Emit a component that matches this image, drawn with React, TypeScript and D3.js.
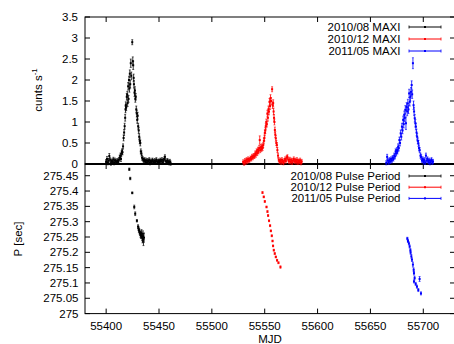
import React from 'react';
import * as d3 from 'd3';

// [MJD, value, error]
type Pt = [number, number, number];

const lc1008: Pt[] = [
  [55400.0,0.05,0.05],[55400.8,0.12,0.06],[55401.5,0.03,0.05],[55402.3,0.08,0.05],[55403.0,0.19,0.06],[55403.8,0.1,0.05],
  [55404.5,0.02,0.05],[55405.3,0.07,0.05],[55406.0,0.05,0.05],[55406.8,0.11,0.05],[55407.5,0.03,0.05],[55408.3,0.09,0.05],
  [55409.0,0.06,0.05],[55409.8,0.04,0.05],[55410.5,0.08,0.05],[55411.3,0.05,0.05],[55412.0,0.1,0.05],[55412.8,0.15,0.06],
  [55413.5,0.2,0.06],[55414.0,0.12,0.06],[55414.5,0.25,0.06],[55415.0,0.3,0.06],[55415.5,0.28,0.06],[55416.0,0.42,0.06],
  [55416.5,0.62,0.07],[55417.0,0.75,0.07],[55417.5,0.9,0.07],[55418.0,1.1,0.08],[55418.3,1.3,0.08],[55418.6,1.4,0.08],
  [55419.0,1.35,0.08],[55419.5,1.6,0.08],[55420.0,1.65,0.08],[55420.3,1.45,0.08],[55420.8,1.85,0.09],[55421.2,1.55,0.08],
  [55421.6,2.0,0.09],[55422.0,1.8,0.09],[55422.4,2.15,0.09],[55422.8,1.9,0.09],[55423.3,2.4,0.1],[55423.8,2.1,0.09],
  [55424.7,2.9,0.06],[55425.2,2.45,0.1],[55425.6,2.35,0.1],[55426.0,2.05,0.09],[55426.3,1.9,0.09],[55426.8,1.7,0.09],
  [55427.2,1.75,0.09],[55427.6,1.55,0.08],[55428.0,1.6,0.08],[55428.5,1.3,0.08],[55429.0,1.2,0.08],[55429.4,1.05,0.08],
  [55429.8,1.15,0.08],[55430.3,0.9,0.07],[55430.8,0.8,0.07],[55431.3,0.65,0.07],[55431.8,0.55,0.07],[55432.3,0.5,0.07],
  [55432.8,0.3,0.06],[55433.4,0.25,0.06],[55434.0,0.15,0.06],[55434.8,0.12,0.05],[55435.5,0.08,0.05],[55436.3,0.1,0.05],
  [55437.0,0.05,0.05],[55437.8,0.09,0.05],[55438.5,0.04,0.05],[55439.3,0.08,0.05],[55440.0,0.06,0.05],[55440.8,0.1,0.05],
  [55441.5,0.03,0.05],[55442.3,0.07,0.05],[55443.0,0.05,0.05],[55443.8,0.09,0.05],[55444.5,0.06,0.05],[55445.3,0.04,0.05],
  [55446.0,0.08,0.05],[55446.8,0.05,0.05],[55447.5,0.1,0.05],[55448.3,0.06,0.05],[55449.0,0.04,0.05],[55449.8,0.07,0.05],
  [55450.5,0.05,0.05],[55451.3,0.09,0.05],[55452.0,0.06,0.05],[55452.8,0.1,0.05],[55453.5,0.04,0.05],[55454.3,0.08,0.05],
  [55455.0,0.12,0.05],[55455.6,0.17,0.05],[55456.5,0.07,0.05],[55457.3,0.04,0.05],[55458.0,0.08,0.05],[55458.8,0.05,0.05],
  [55459.5,0.03,0.05],[55460.3,0.06,0.05],[55461.0,0.02,0.05],
];

const lc1012: Pt[] = [
  [55529.6,0.05,0.05],[55530.5,0.02,0.05],[55531.3,0.08,0.05],[55532.0,0.04,0.05],[55532.8,0.1,0.05],[55533.5,0.06,0.05],
  [55534.3,0.12,0.05],[55535.0,0.08,0.05],[55535.8,0.1,0.05],[55536.5,0.14,0.05],[55537.3,0.12,0.05],[55538.0,0.18,0.05],
  [55538.8,0.15,0.05],[55539.5,0.2,0.05],[55540.3,0.18,0.05],[55541.0,0.25,0.06],[55541.6,0.22,0.06],[55542.3,0.3,0.06],
  [55543.0,0.26,0.06],[55543.6,0.34,0.06],[55544.2,0.3,0.06],[55544.8,0.38,0.06],[55545.3,0.57,0.1],[55545.8,0.33,0.06],
  [55546.4,0.4,0.06],[55547.0,0.36,0.06],[55547.5,0.42,0.06],[55548.0,0.38,0.06],[55548.6,0.45,0.06],[55549.2,0.55,0.07],
  [55549.7,0.62,0.07],[55550.1,0.74,0.07],[55550.6,0.8,0.07],[55551.0,0.9,0.07],[55551.5,1.0,0.07],[55552.0,0.95,0.07],
  [55552.5,1.2,0.08],[55553.0,1.1,0.08],[55553.5,1.3,0.08],[55554.0,1.25,0.08],[55554.5,1.48,0.08],[55555.0,1.38,0.08],
  [55555.5,1.57,0.08],[55556.0,1.5,0.08],[55557.0,1.78,0.06],[55557.5,1.4,0.08],[55558.0,1.45,0.08],[55558.4,1.25,0.08],
  [55558.8,1.1,0.08],[55559.2,1.0,0.07],[55559.6,0.81,0.07],[55560.0,0.7,0.07],[55560.5,0.61,0.07],[55561.0,0.5,0.06],
  [55561.5,0.45,0.06],[55562.0,0.33,0.06],[55562.6,0.2,0.06],[55563.3,0.1,0.05],[55564.0,0.06,0.05],[55564.8,0.09,0.05],
  [55565.5,0.04,0.05],[55566.3,0.1,0.05],[55567.0,0.06,0.05],[55567.8,0.03,0.05],[55568.5,0.08,0.05],[55569.3,0.12,0.05],
  [55570.0,0.07,0.05],[55570.8,0.15,0.05],[55571.5,0.17,0.05],[55572.3,0.1,0.05],[55573.0,0.06,0.05],[55573.8,0.11,0.05],
  [55574.5,0.05,0.05],[55575.3,0.09,0.05],[55576.0,0.04,0.05],[55576.8,0.08,0.05],[55577.5,0.12,0.05],[55578.3,0.06,0.05],
  [55579.0,0.09,0.05],[55579.8,0.05,0.05],[55580.5,0.1,0.05],[55581.3,0.04,0.05],[55582.0,0.07,0.05],[55582.8,0.05,0.05],
  [55583.5,0.09,0.05],[55584.3,0.03,0.05],[55585.0,0.06,0.05],
];

const lc1105: Pt[] = [
  [55665.0,0.03,0.05],[55665.8,0.17,0.06],[55666.5,0.08,0.05],[55667.3,0.04,0.05],[55668.0,0.1,0.05],[55668.8,0.06,0.05],
  [55669.5,0.12,0.05],[55670.3,0.08,0.05],[55671.0,0.15,0.05],[55671.8,0.12,0.05],[55672.5,0.2,0.06],[55673.2,0.18,0.06],
  [55673.8,0.3,0.06],[55674.4,0.25,0.06],[55675.0,0.33,0.06],[55675.6,0.3,0.06],[55676.2,0.41,0.07],[55676.8,0.38,0.07],
  [55677.4,0.57,0.07],[55678.0,0.5,0.07],[55678.6,0.73,0.08],[55679.2,0.65,0.08],[55679.8,0.89,0.08],[55680.4,0.8,0.08],
  [55681.0,1.05,0.09],[55681.5,0.95,0.09],[55682.0,1.17,0.09],[55682.5,1.1,0.09],[55683.0,1.29,0.1],[55683.6,0.97,0.15],
  [55684.2,1.36,0.1],[55684.8,1.25,0.1],[55685.4,1.44,0.1],[55686.0,1.3,0.1],[55686.6,1.68,0.1],[55687.2,1.48,0.1],
  [55687.8,1.6,0.1],[55688.4,1.72,0.1],[55689.0,1.88,0.1],[55689.5,1.66,0.1],[55690.2,2.4,0.13],[55690.8,1.4,0.1],
  [55691.3,1.25,0.1],[55691.9,1.09,0.09],[55692.5,0.97,0.09],[55693.0,0.89,0.08],[55693.6,0.75,0.08],[55694.2,0.65,0.08],
  [55694.8,0.55,0.07],[55695.4,0.49,0.07],[55696.0,0.38,0.07],[55696.6,0.33,0.06],[55697.3,0.2,0.06],[55698.0,0.17,0.06],
  [55698.8,0.08,0.05],[55699.5,0.12,0.05],[55700.3,0.05,0.05],[55701.0,0.1,0.05],[55701.8,0.04,0.05],[55702.5,0.2,0.06],
  [55703.3,0.08,0.05],[55704.0,0.12,0.05],[55704.8,0.05,0.05],[55705.5,0.09,0.05],[55706.3,0.03,0.05],[55707.0,0.07,0.05],
  [55707.8,0.1,0.05],[55708.5,0.04,0.05],[55709.2,0.06,0.05],
];

const p1008: Pt[] = [
  [55421.9,275.471,0.004],[55422.8,275.441,0.004],[55424.7,275.394,0.003],[55426.6,275.348,0.006],[55427.5,275.326,0.006],
  [55429.1,275.303,0.004],[55430.2,275.284,0.006],[55430.6,275.278,0.006],[55431.0,275.272,0.007],[55431.5,275.268,0.008],
  [55432.0,275.262,0.008],[55432.5,275.258,0.01],[55433.0,275.255,0.01],[55433.5,275.262,0.012],[55434.0,275.25,0.012],
  [55434.4,275.246,0.015],[55434.8,275.252,0.018],[55435.3,275.242,0.02],[55435.8,275.248,0.015],
];

const p1012: Pt[] = [
  [55547.9,275.395,0.003],[55549.1,275.381,0.003],[55550.1,275.366,0.003],[55551.7,275.348,0.003],[55552.6,275.333,0.003],
  [55553.2,275.32,0.003],[55554.1,275.303,0.003],[55555.1,275.287,0.003],[55555.8,275.27,0.003],[55556.7,275.254,0.003],
  [55557.4,275.237,0.003],[55557.9,275.221,0.003],[55558.6,275.207,0.003],[55559.5,275.196,0.003],[55560.5,275.185,0.003],
  [55561.7,275.174,0.003],[55563.0,275.166,0.003],[55564.9,275.152,0.004],
];

const p1105: Pt[] = [
  [55684.9,275.245,0.004],[55685.5,275.237,0.005],[55686.4,275.229,0.005],[55687.1,275.219,0.005],[55687.8,275.207,0.005],
  [55688.0,275.199,0.005],[55688.7,275.187,0.006],[55689.3,275.176,0.006],[55690.2,275.16,0.008],[55690.9,275.143,0.006],
  [55691.2,275.132,0.006],[55691.8,275.116,0.006],[55691.2,275.105,0.005],[55692.8,275.097,0.005],[55694.0,275.088,0.005],
  [55695.3,275.077,0.005],[55696.5,275.113,0.008],[55697.8,275.066,0.005],
];

const topLegend = ['2010/08 MAXI', '2010/12 MAXI', '2011/05 MAXI'];
const botLegend = ['2010/08 Pulse Period', '2010/12 Pulse Period', '2011/05 Pulse Period'];
const colors = ['#000000', '#ff0000', '#0000ff'];
const xTicks = [55400, 55450, 55500, 55550, 55600, 55650, 55700];
const topTicks = [0, 0.5, 1, 1.5, 2, 2.5, 3, 3.5];
const botTicks = [275, 275.05, 275.1, 275.15, 275.2, 275.25, 275.3, 275.35, 275.4, 275.45];

const W = 454;
const H = 344;
const L = 85;
const R = 455;
const TOP = 17;
const MID = 164;
const BOT = 313.6;
const FONT = '"Liberation Sans", Arial, Helvetica, sans-serif';
const FS = 11.5;

const x = d3.scaleLinear().domain([55380, 55730]).range([L, R]);
const yTop = d3.scaleLinear().domain([0, 3.5]).range([MID, TOP]);
const yBot = d3.scaleLinear().domain([275, 275.5]).range([BOT, 160.4]);

const Series: React.FC<{ data: Pt[]; y: d3.ScaleLinear<number, number>; color: string }> = ({ data, y, color }) => (
  <g stroke={color} fill={color}>
    {data.map(([t, v, e], i) => {
      const cx = x(t);
      const y0 = y(v - e);
      const y1 = y(v + e);
      return (
        <g key={i}>
          <line x1={cx} x2={cx} y1={y0} y2={y1} strokeWidth={0.8} />
          <line x1={cx - 1} x2={cx + 1} y1={y0} y2={y0} strokeWidth={0.6} />
          <line x1={cx - 1} x2={cx + 1} y1={y1} y2={y1} strokeWidth={0.6} />
          <rect x={cx - 1} y={y(v) - 1} width={2} height={2} stroke="none" />
        </g>
      );
    })}
  </g>
);

const Legend: React.FC<{ labels: string[]; y0: number; dy: number }> = ({ labels, y0, dy }) => (
  <g>
    {labels.map((s, i) => {
      const yy = y0 + i * dy;
      return (
        <g key={s}>
          <text x={400.5} y={yy + 4} textAnchor="end" fontFamily={FONT} fontSize={FS} fill="#000">{s}</text>
          <g stroke={colors[i]} fill={colors[i]}>
            <line x1={409} x2={441} y1={yy} y2={yy} strokeWidth={1} />
            <line x1={409} x2={409} y1={yy - 1.5} y2={yy + 1.5} strokeWidth={0.8} />
            <line x1={441} x2={441} y1={yy - 1.5} y2={yy + 1.5} strokeWidth={0.8} />
            <rect x={424} y={yy - 1} width={2} height={2} stroke="none" />
          </g>
        </g>
      );
    })}
  </g>
);

export default function App() {
  const tk = 5;
  return (
    <div style={{ position: 'fixed', left: 0, top: 0, width: W, height: H, background: '#fff' }}>
      <svg width={W} height={H} style={{ display: 'block' }}>
        <rect width={W} height={H} fill="#fff" />

        {/* frames */}
        <g stroke="#000" fill="none">
          <rect x={L} y={TOP} width={R - L} height={MID - TOP} strokeWidth={1} />
          <rect x={L} y={MID} width={R - L} height={BOT - MID} strokeWidth={1} />
          <line x1={L} x2={R} y1={MID} y2={MID} strokeWidth={2} />
        </g>

        {/* ticks, mirrored on all sides */}
        <g stroke="#000" strokeWidth={1}>
          {xTicks.map(t => (
            <g key={t}>
              <line x1={x(t)} x2={x(t)} y1={TOP} y2={TOP + tk} />
              <line x1={x(t)} x2={x(t)} y1={MID - tk} y2={MID + tk} />
              <line x1={x(t)} x2={x(t)} y1={BOT} y2={BOT - tk} />
            </g>
          ))}
          {topTicks.map(t => (
            <g key={t}>
              <line x1={L} x2={L + tk} y1={yTop(t)} y2={yTop(t)} />
              <line x1={R} x2={R - tk} y1={yTop(t)} y2={yTop(t)} />
            </g>
          ))}
          {botTicks.map(t => (
            <g key={t}>
              <line x1={L} x2={L + tk} y1={yBot(t)} y2={yBot(t)} />
              <line x1={R} x2={R - tk} y1={yBot(t)} y2={yBot(t)} />
            </g>
          ))}
        </g>

        {/* labels */}
        <g fontFamily={FONT} fontSize={FS} fill="#000">
          {topTicks.map(t => (
            <text key={t} x={78} y={yTop(t) + 4} textAnchor="end">{d3.format('~g')(t)}</text>
          ))}
          {botTicks.map(t => (
            <text key={t} x={78.5} y={yBot(t) + 4} textAnchor="end">{d3.format('~f')(+t.toFixed(2))}</text>
          ))}
          {xTicks.map(t => (
            <text key={t} x={x(t)} y={330} textAnchor="middle">{t}</text>
          ))}
          <text x={(L + R) / 2} y={342.5} textAnchor="middle">MJD</text>
          <text transform="translate(42,90) rotate(-90)" textAnchor="middle">
            cunts s<tspan fontSize={8} dy={-5}>-1</tspan>
          </text>
          <text transform="translate(22,239) rotate(-90)" textAnchor="middle">P [sec]</text>
        </g>

        <Legend labels={topLegend} y0={27} dy={12} />
        <Legend labels={botLegend} y0={176} dy={11.2} />

        <Series data={lc1008} y={yTop} color={colors[0]} />
        <Series data={lc1012} y={yTop} color={colors[1]} />
        <Series data={lc1105} y={yTop} color={colors[2]} />
        <Series data={p1008} y={yBot} color={colors[0]} />
        <Series data={p1012} y={yBot} color={colors[1]} />
        <Series data={p1105} y={yBot} color={colors[2]} />
      </svg>
    </div>
  );
}
